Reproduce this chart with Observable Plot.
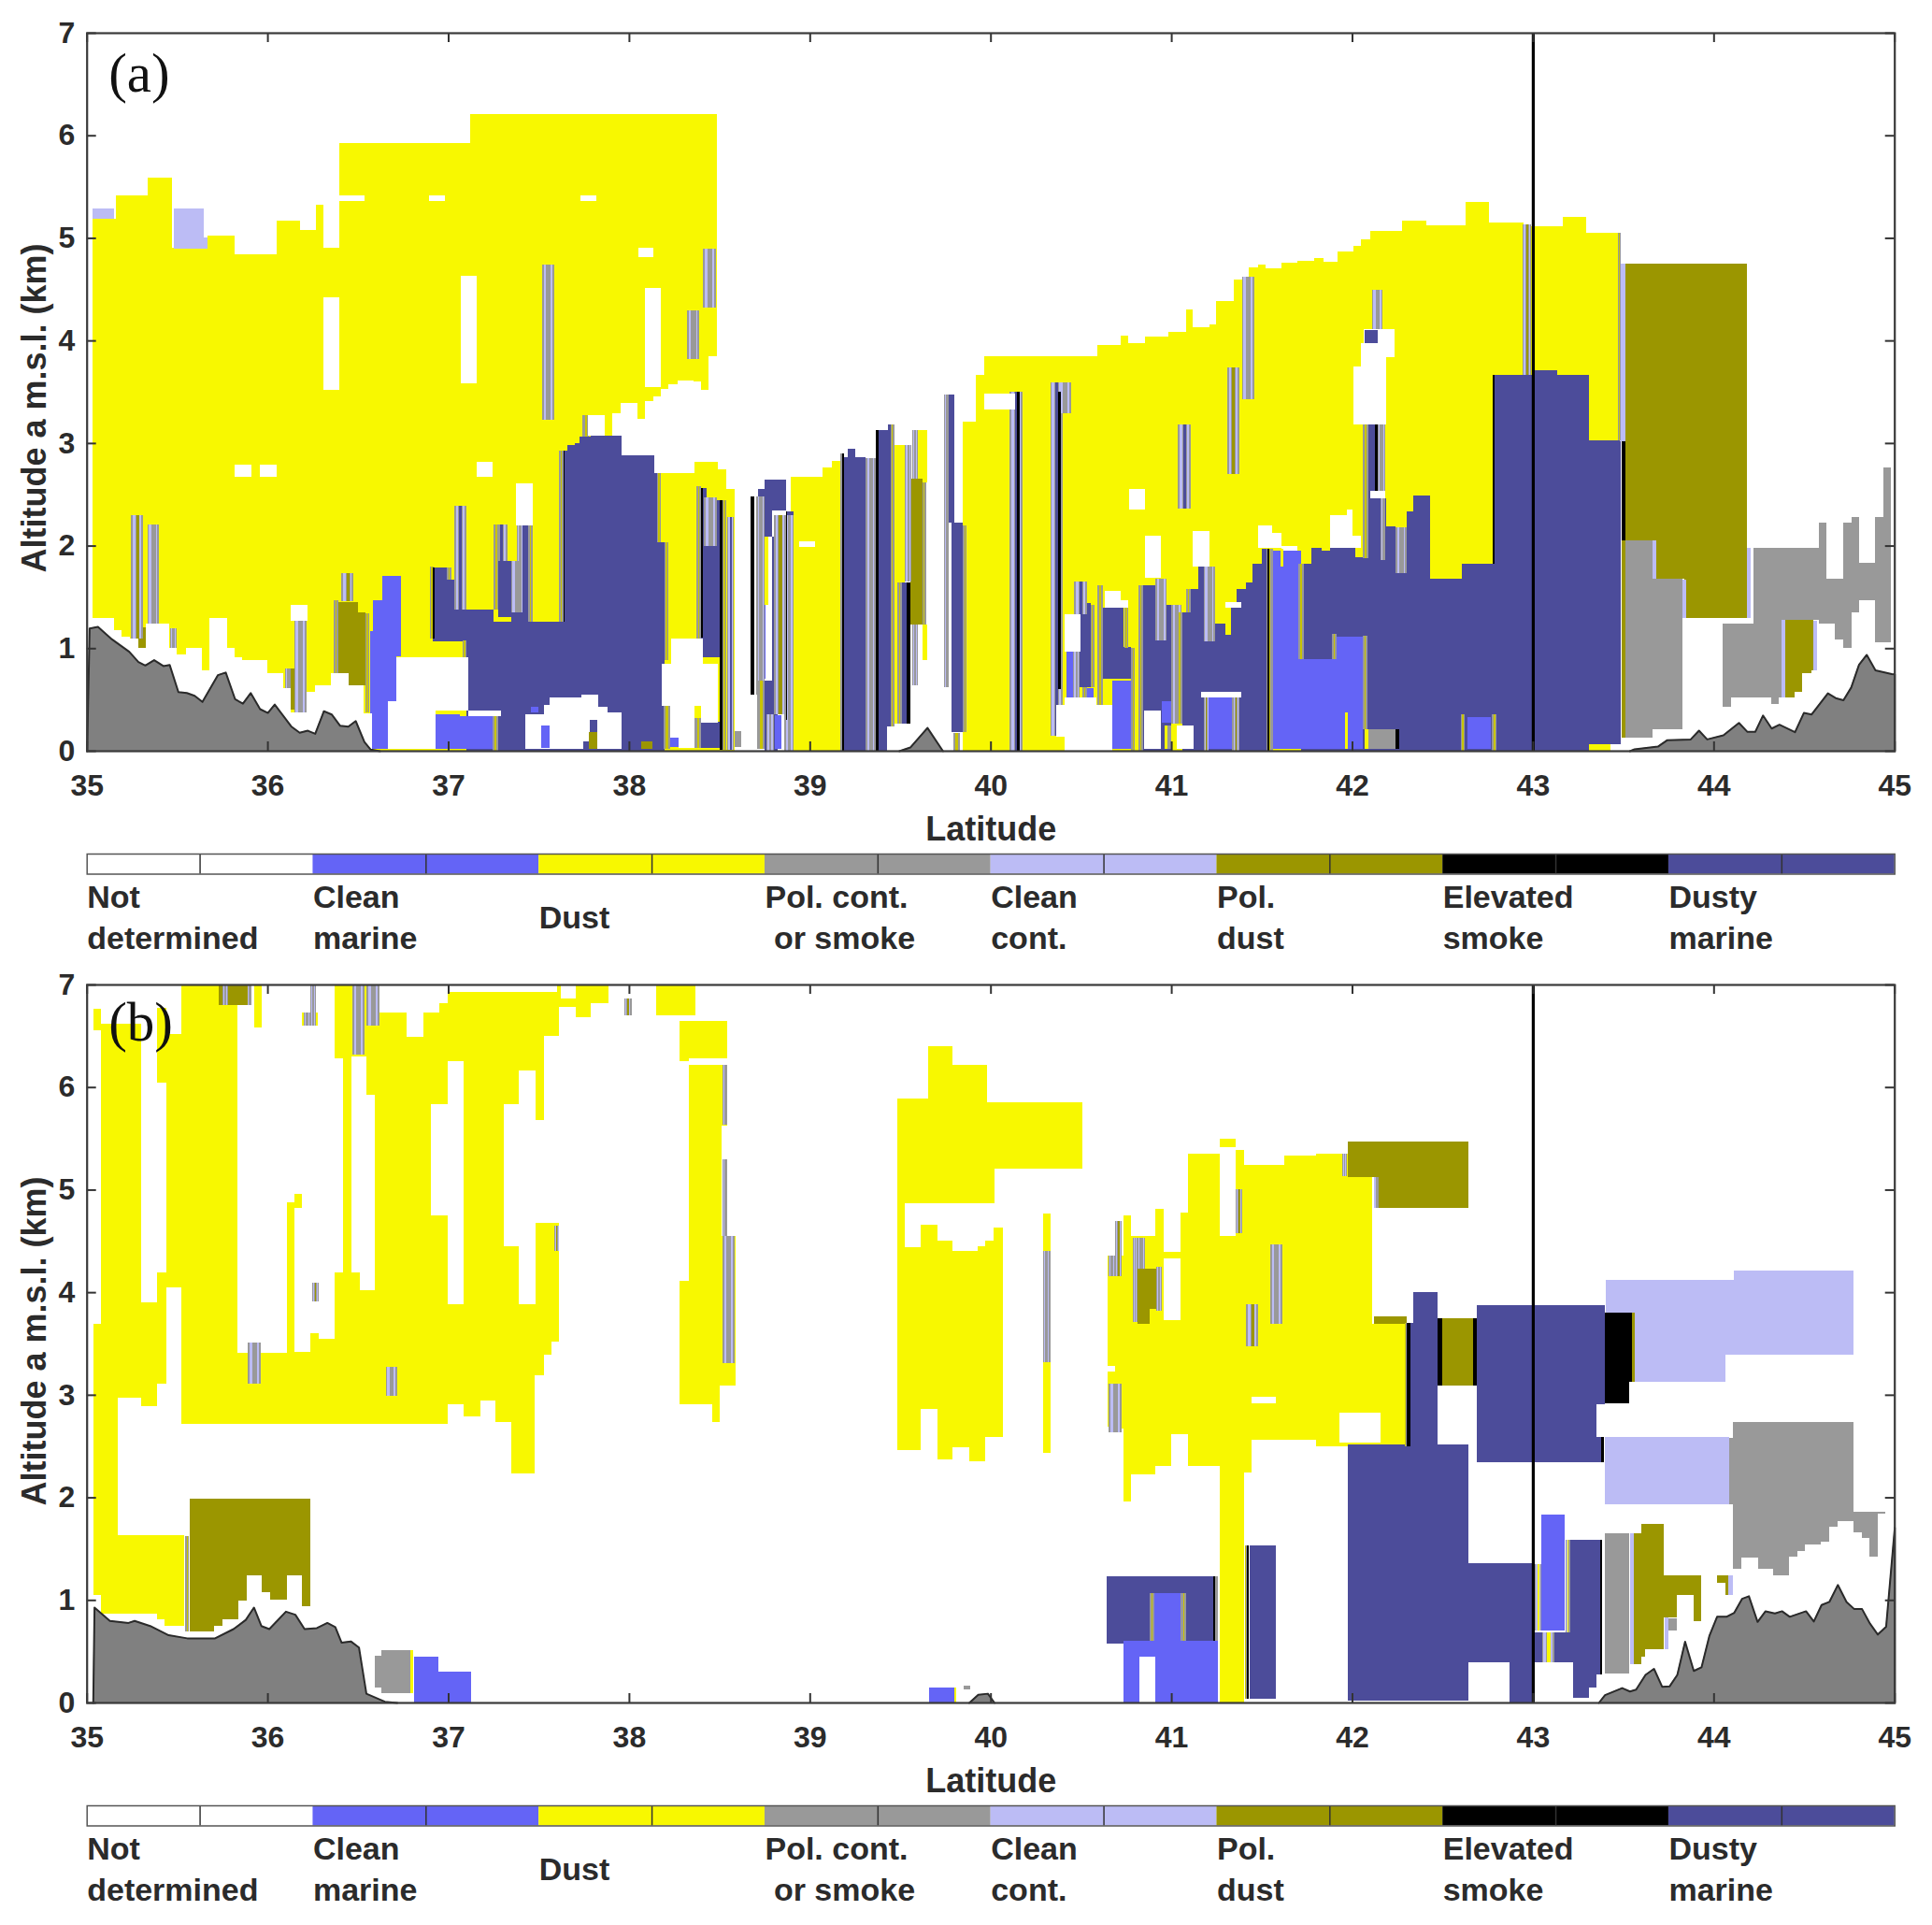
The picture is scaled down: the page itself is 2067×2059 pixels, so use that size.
<!DOCTYPE html>
<html><head><meta charset="utf-8">
<script src="https://cdn.jsdelivr.net/npm/d3@7"></script>
<script src="https://cdn.jsdelivr.net/npm/@observablehq/plot@0.6"></script>
<style>html,body{margin:0;background:#fff}svg{display:block}</style></head><body><div id="root"></div>
<script>
// Aerosol classes (legend order)
const legendLabels=["Not\ndetermined","Clean\nmarine","Dust","Pol. cont.\n or smoke","Clean\ncont.","Pol.\ndust","Elevated\nsmoke","Dusty\nmarine"];
const legendColors=["#ffffff","#6464f6","#f8f800","#999999","#bcbcf5","#9b9600","#000000","#4c4c9a"];
const colors={white:"#ffffff",marine:"#6464f6",dust:"#f8f800",gray:"#999999",clean:"#bcbcf5",olive:"#9b9600",black:"#000000",dusty:"#4c4c9a"};
const latTicks=[35,36,37,38,39,40,41,42,43,44,45];
const altTicks=[0,1,2,3,4,5,6,7];
// every block: [lat from, lat to, altitude top, altitude bottom]
const dustA=[[35.03,35.16,5.19,0],[35.16,35.34,5.41,0],[35.34,35.47,5.59,0],[35.47,35.67,4.9,0],[35.67,35.82,5.02,0],[35.82,36.05,4.84,0],[36.05,36.18,5.17,0],[36.18,36.27,5.08,0],[36.27,36.31,5.32,0],[36.31,36.40,4.9,0],[36.40,37.12,5.92,0],[37.12,37.91,6.21,0],[37.91,37.956,6.21,3.29],[37.956,38.048,6.21,3.39],[38.048,38.09,6.21,3.24],[38.09,38.134,6.21,3.41],[38.134,38.178,6.21,3.45],[38.178,38.22,6.21,3.53],[38.22,38.27,6.21,3.57],[38.27,38.356,6.21,3.61],[38.356,38.40,6.21,3.6],[38.40,38.44,6.21,3.52],[38.44,38.486,6.21,3.85],[38.149,38.365,2.71,0],[38.365,38.494,2.82,0],[38.494,38.537,2.74,0],[38.537,38.584,2.55,0],[38.71,38.77,2.09,1.42],[38.895,39.07,2.67,0],[39.07,39.12,2.76,0],[39.12,39.19,2.83,0],[39.467,39.528,2.98,1.64],[39.47,39.485,1.64,.26],[39.597,39.648,3.13,2.62],[39.623,39.648,1.23,.88],[39.846,39.92,3.21,0],[39.92,39.966,3.66,0],[39.966,40.59,3.85,0],[40.59,40.72,3.96,0],[40.72,40.76,4.05,0],[40.76,40.855,3.97,0],[40.855,40.985,4.04,0],[40.985,41.08,4.08,0],[41.08,41.12,4.30,0],[41.12,41.21,4.13,0],[41.21,41.25,4.16,0],[41.25,41.345,4.38,0],[41.345,41.43,4.59,0],[41.43,41.48,4.71,0],[41.48,41.52,4.74,0],[41.52,41.61,4.70,0],[41.61,41.70,4.76,0],[41.70,41.79,4.78,0],[41.79,41.84,4.80,0],[41.84,41.92,4.77,0],[41.92,42.01,4.87,0],[42.01,42.05,4.92,0],[42.05,42.10,4.99,0],[42.10,42.275,5.07,0],[42.275,42.41,5.17,0],[42.41,42.63,5.12,0],[42.63,42.76,5.35,0],[42.76,42.95,5.15,0],[42.95,43.165,5.11,0],[43.165,43.295,5.20,0],[43.295,43.47,5.05,0]];
const dustyA=[[36.916,36.994,1.79,1.07],[36.994,37.102,1.67,1.07],[37.05,37.085,2.38,1.38],[37.10,37.25,1.38,0],[37.25,37.637,1.26,0],[37.278,37.313,2.2,1.3],[37.313,37.347,1.85,1.3],[37.347,37.413,1.35,1.2],[37.413,37.442,2.2,1.2],[37.615,37.66,2.93,0],[37.66,37.70,2.98,0],[37.70,37.727,3.0,0],[37.727,37.787,3.06,0],[37.787,37.96,3.07,0],[37.96,38.14,2.88,0],[38.14,38.154,2.71,0],[38.154,38.196,2.03,0],[38.40,38.503,2.0,.91],[38.399,38.43,2.56,2.0],[38.485,38.503,2.44,2.0],[38.40,38.503,.28,.03],[38.714,38.748,2.55,2.09],[38.748,38.867,2.64,2.34],[38.748,38.792,2.34,2.09],[38.792,38.821,2.09,.68],[38.752,38.821,.68,0],[38.867,38.91,2.33,0],[39.19,39.31,2.86,0],[39.21,39.25,2.94,2.86],[39.364,39.447,3.13,0],[39.435,39.447,3.18,3.13],[39.51,39.557,1.64,.26],[39.769,39.80,3.47,2.22],[39.786,39.846,2.22,.18],[40.493,40.553,1.44,.62],[40.622,40.734,1.39,.70],[40.734,40.778,1.015,.70],[40.838,40.915,1.61,0],[40.915,41.0,1.08,0],[40.976,41.0,1.42,1.0],[41.06,41.08,1.35,0],[41.08,41.15,1.58,0],[41.15,41.178,1.80,0],[41.178,41.243,1.07,0],[41.243,41.30,1.24,0],[41.30,41.33,1.13,0],[41.33,41.364,1.39,0],[41.364,41.415,1.58,0],[41.415,41.45,1.64,0],[41.45,41.50,1.82,0],[41.50,41.562,1.97,0],[41.717,41.777,1.82,0],[41.777,41.83,1.98,0],[41.83,41.88,1.95,0],[41.88,42.02,1.98,0],[42.02,42.088,1.89,0],[42.088,42.136,3.18,0],[42.136,42.19,2.46,0],[42.183,42.243,2.19,0],[42.243,42.303,1.73,0],[42.303,42.338,2.33,0],[42.338,42.43,2.49,0],[42.43,42.61,1.675,0],[42.61,42.79,1.82,0],[42.79,43.0,3.66,0],[43.0,43.135,3.71,0],[43.135,43.31,3.66,0],[43.31,43.488,3.03,.06]];
const marineA=[[36.586,36.634,1.47,.92],[36.634,36.741,1.70,.92],[36.566,36.712,1.17,.92],[36.566,36.664,.92,.015],[36.664,36.712,.92,.48],[36.93,37.065,.36,.015],[37.065,37.245,.34,.015],[38.712,38.755,1.42,.7],[38.807,38.842,.35,.015],[40.419,40.459,.97,.52],[40.533,40.57,.61,.48],[40.674,40.80,.68,.015],[40.95,41.02,.48,.27],[41.208,41.337,.515,.015],[41.562,41.717,1.95,.015],[41.717,42.062,.894,.015],[41.907,42.062,1.115,.89],[42.64,42.77,.33,.015]];
const oliveA=[[35.284,35.328,1.2,1.0],[36.13,36.18,.80,.40],[36.388,36.448,1.45,.76],[36.448,36.50,1.45,.636],[36.50,36.543,1.35,.636],[39.557,39.623,2.65,1.23],[43.512,43.664,4.75,2.055],[43.664,43.84,4.75,1.676],[43.84,44.185,4.75,1.29],[44.397,44.448,1.276,.515],[44.448,44.49,1.276,.576],[44.49,44.54,1.276,.758],[44.54,44.552,1.276,.782],[43.49,43.51,2.055,.13]];
const grayA=[[43.512,43.664,2.055,.13],[43.664,43.828,1.676,.21],[44.052,44.098,1.236,.424],[44.098,44.219,1.236,.515],[44.219,44.319,1.979,.515],[44.319,44.362,1.979,.455],[44.362,44.376,1.979,.515],[44.376,44.583,1.979,1.276],[44.583,44.626,2.22,1.236],[44.626,44.673,1.68,1.236],[44.673,44.716,1.68,1.085],[44.716,44.762,2.22,1.0],[44.762,44.805,2.28,1.35],[44.805,44.893,1.833,1.47],[44.893,44.94,2.28,1.06],[44.94,44.983,2.76,1.06],[42.088,42.243,.206,.015]];
const cleanA=[[35.03,35.15,5.29,5.19],[35.48,35.646,5.29,4.89],[35.57,35.67,5.0,4.89],[43.483,43.512,4.75,3.02],[43.664,43.681,2.05,1.676],[43.83,43.848,1.67,1.29],[44.185,44.205,1.98,1.29],[44.376,44.397,1.276,.515],[44.552,44.573,1.27,.78]];
const blackA=[[38.503,38.516,2.44,.01],[38.674,38.695,2.48,.55],[39.537,39.557,1.64,.26],[39.364,39.382,3.13,0],[37.637,37.645,2.93,1.26],[39.18,39.19,2.9,0],[43.49,43.512,3.02,2.05],[42.243,42.26,.206,.015],[42.128,42.144,3.18,2.5],[40.376,40.39,3.5,.6],[40.145,40.16,3.5,0],[36.916,36.924,1.79,1.09],[38.399,38.41,2.56,1.1],[41.53,41.54,1.97,0],[38.87,38.875,2.33,.3],[42.78,42.79,3.66,1.82]];
const stripesA=[[35.247,35.31,2.30,1.09,"olive"],[35.336,35.40,2.21,1.24,"gray"],[35.462,35.497,1.19,1.0,"gray"],[36.147,36.216,1.27,.37,"gray"],[36.10,36.13,.80,.61,"gray"],[36.41,36.476,1.73,1.46,"olive"],[37.033,37.10,2.39,1.38,"dusty"],[37.252,37.33,2.21,1.85,"dusty"],[37.347,37.413,1.85,1.35,"gray"],[37.382,37.413,2.2,1.35,"gray"],[38.416,38.485,2.47,2.0,"gray"],[38.546,38.58,2.28,.01,"dusty"],[39.31,39.364,2.85,0,"gray"],[39.528,39.562,2.98,1.65,"gray"],[39.566,39.597,3.13,2.65,"gray"],[39.566,39.597,1.23,.64,"gray"],[39.743,39.769,3.47,.15,"gray"],[40.105,40.178,3.50,0,"dusty"],[40.33,40.40,3.59,.15,"dusty"],[40.376,40.445,3.59,3.29,"gray"],[40.464,40.533,1.65,1.33,"dusty"],[40.458,40.493,.97,.52,"gray"],[40.912,40.976,1.68,1.08,"gray"],[41.0,41.057,1.42,.26,"gray"],[41.178,41.243,1.80,1.07,"gray"],[41.179,41.208,.52,0,"olive"],[41.338,41.377,.52,0,"olive"],[37.52,37.587,4.74,3.23,"gray"],[38.407,38.483,4.89,4.32,"gray"],[38.32,38.39,4.29,3.82,"gray"],[41.39,41.46,4.62,3.43,"gray"],[41.31,41.375,3.74,2.70,"olive"],[41.035,41.11,3.18,2.36,"dusty"],[42.945,42.99,5.13,3.66,"olive"],[42.11,42.17,4.49,4.11,"gray"],[42.14,42.184,3.18,2.5,"gray"],[42.157,42.184,2.46,1.86,"gray"],[42.243,42.303,2.18,1.73,"gray"],[38.706,38.752,2.48,.55,"gray"],[38.80,38.87,2.3,.36,"olive"],[38.76,38.80,.36,0,"gray"],[38.86,38.91,2.3,.0,"gray"]];
const edgesA=[[36.367,36.39,1.47,.76],[36.54,36.564,1.34,.37],[36.897,36.922,1.80,1.09],[36.994,37.016,1.79,1.67],[37.08,37.10,1.08,.91],[37.245,37.276,.34,0],[37.252,37.278,2.21,1.38],[37.442,37.468,2.2,1.26],[37.615,37.637,2.93,1.26],[37.744,37.78,3.27,3.06],[38.154,38.178,2.71,2.03],[38.196,38.22,2.03,.88],[38.192,38.227,.44,.02],[38.365,38.40,.32,.03],[38.373,38.399,2.58,1.08],[38.516,38.54,2.44,.01],[38.585,38.62,.19,.04],[38.71,38.752,.68,.02],[39.17,39.19,2.9,0],[39.447,39.467,3.18,.12],[39.485,39.51,1.64,.26],[39.623,39.643,2.62,1.23],[39.846,39.869,2.2,.18],[39.795,39.83,.17,0],[40.553,40.574,1.42,.62],[40.51,40.533,.62,.49],[40.591,40.622,1.61,.39],[40.74,40.764,1.39,1.0],[40.778,40.80,1.0,0],[40.817,40.843,1.61,0],[41.03,41.06,1.35,.26],[41.08,41.11,1.58,1.35],[41.527,41.562,1.97,0],[41.703,41.734,1.82,.89],[41.89,41.915,1.135,.89],[42.062,42.084,1.12,.21],[42.062,42.088,3.18,1.88],[43.47,43.488,5.05,3.03],[42.60,42.625,.36,.0],[42.775,42.80,.36,.0]];
const whiteA=[[35,35.15,1.297,0],[35.15,35.193,1.176,0],[35.193,35.241,1.115,0],[35.241,35.284,1.09,0],[35.284,35.328,1.0,0],[35.328,35.457,1.24,0],[35.457,35.5,1.0,0],[35.5,35.548,.94,0],[35.548,35.638,1.0,0],[35.638,35.681,.788,0],[35.681,35.776,1.297,0],[35.776,35.819,1.0,0],[35.819,35.862,.91,0],[35.862,36.0,.88,0],[36.0,36.086,.76,0],[36.086,36.129,.61,0],[36.129,36.216,.37,0],[36.216,36.262,.576,0],[36.262,36.353,.636,0],[36.353,36.448,.76,0],[36.448,36.534,.636,0],[36.534,36.578,.364,0],[36.31,36.40,4.42,3.52],[37.07,37.156,4.63,3.58],[38.09,38.178,4.51,3.55],[38.05,38.134,4.9,4.81],[36.893,36.98,5.41,5.36],[37.73,37.82,5.41,5.36],[36.40,36.535,5.41,5.36],[35.82,35.91,2.79,2.67],[35.957,36.05,2.79,2.67],[37.156,37.245,2.82,2.67],[37.375,37.468,2.61,2.2],[38.94,39.03,2.04,1.99],[36.13,36.22,1.42,1.27],[37.775,37.867,3.27,3.07],[36.712,37.112,.91,.39],[36.664,36.93,.485,.015],[37.112,37.29,.39,.34],[37.425,37.528,.36,.015],[37.528,37.563,.45,.015],[37.563,37.735,.515,.015],[37.735,37.83,.55,.015],[37.83,37.882,.43,.015],[37.882,37.96,.37,.015],[38.235,38.408,1.09,.85],[38.183,38.494,.85,.44],[38.275,38.365,.44,.03],[38.399,38.494,.44,.27],[38.227,38.275,.44,.13],[39.43,39.786,.24,0],[39.562,39.786,.62,.0],[39.743,39.786,.52,.26],[39.966,40.137,3.48,3.33],[40.765,40.855,2.55,2.35],[40.364,40.674,.45,0],[40.412,40.587,.52,.45],[40.412,40.496,1.33,.97],[40.852,40.941,.39,.015],[40.855,40.945,2.1,1.69],[41.033,41.122,.25,.015],[41.119,41.209,2.14,1.80],[41.165,41.386,.575,.52],[41.298,41.386,1.445,1.39],[40.631,40.72,1.56,1.39],[40.72,40.764,1.47,1.39],[41.478,41.56,2.2,1.98],[41.56,41.61,2.12,1.98],[41.61,41.70,2.0,1.95],[41.88,41.97,2.3,1.98],[41.97,42.0,2.35,1.98],[42.0,42.05,2.1,1.98],[42.053,42.14,3.3,3.19],[42.10,42.186,2.53,2.46],[42.065,42.235,4.11,3.84],[42.05,42.19,3.97,3.75],[42.01,42.19,3.75,3.18],[43.43,43.49,.06,0],[43.49,43.65,.1,0]];
const innerA=[[37.782,37.826,.3,.015,"dusty"],[37.745,37.782,.09,.015,"dusty"],[37.516,37.559,.25,.03,"marine"],[37.78,37.826,.18,.015,"olive"],[37.46,37.50,.43,.37,"marine"],[38.227,38.275,.13,.04,"marine"],[38.07,38.13,.09,.02,"olive"],[38.585,38.62,.19,.04,"gray"],[40.364,40.41,.14,0,"dust"],[40.312,40.36,.14,0,"dust"],[41.602,41.622,1.97,1.8,"dust"],[41.959,41.976,.37,.015,"dust"],[42.07,42.088,.21,.015,"dust"],[40.962,40.98,.25,.015,"dust"],[41.0,41.027,.25,.015,"dust"],[40.80,40.82,.68,.015,"dust"],[40.98,41.0,.25,.015,"gray"],[42.07,42.14,4.1,3.97,"dusty"]];
const terrainA1=[[35.0,0],[35.014,1.197],[35.06,1.212],[35.138,1.09],[35.233,.97],[35.284,.87],[35.322,.836],[35.371,.888],[35.422,.83],[35.457,.84],[35.505,.576],[35.552,.567],[35.595,.54],[35.638,.48],[35.724,.742],[35.767,.767],[35.819,.506],[35.862,.464],[35.905,.567],[35.957,.41],[36.0,.373],[36.038,.455],[36.129,.242],[36.176,.18],[36.221,.2],[36.262,.17],[36.31,.39],[36.353,.358],[36.4,.248],[36.445,.239],[36.486,.294],[36.534,.09],[36.569,.015],[36.62,0]];
const terrainA2=[[39.493,0],[39.554,.036],[39.649,.227],[39.735,0]];
const terrainA3=[[43.535,0],[43.56,.018],[43.69,.045],[43.74,.106],[43.871,.115],[43.917,.2],[43.962,.115],[44.052,.155],[44.138,.276],[44.185,.188],[44.228,.188],[44.271,.348],[44.319,.221],[44.362,.258],[44.448,.185],[44.497,.373],[44.54,.358],[44.63,.564],[44.673,.518],[44.716,.497],[44.759,.621],[44.802,.842],[44.845,.939],[44.893,.788],[44.983,.752],[45,.75],[45,0]];

const dustB=[[35.04,35.08,6.76,6.55],[35.04,35.08,3.69,1.05],[35.08,35.17,6.62,.87],[35.17,35.30,6.62,2.97],[35.30,35.39,3.9,2.89],[35.39,35.44,6.77,6.04],[35.39,35.44,4.19,3.11],[35.44,35.526,6.52,4.05],[35.526,35.834,7,2.72],[35.834,36.107,3.41,2.72],[36.107,36.152,4.88,2.72],[36.152,36.193,4.96,4.82],[36.152,36.237,3.42,2.72],[36.237,36.282,3.60,2.72],[36.282,36.374,3.55,2.72],[35.926,35.969,7,6.58],[36.193,36.28,6.73,6.6],[36.374,36.42,7,6.28],[36.374,36.42,4.19,2.72],[36.42,36.464,7,2.72],[36.464,36.546,7,6.3],[36.464,36.51,4.19,2.72],[36.51,36.596,4.02,2.72],[36.546,36.596,6.72,5.92],[36.596,36.77,6.73,2.72],[36.77,36.862,6.49,2.72],[36.862,36.951,6.73,2.72],[36.951,36.995,6.82,2.72],[36.995,37.085,6.93,2.91],[37.085,37.177,6.93,2.79],[37.177,37.262,6.93,2.94],[37.262,37.348,6.93,2.73],[37.348,37.478,6.93,2.23],[37.478,37.529,6.93,3.19],[37.529,37.57,6.93,3.39],[37.57,37.614,6.93,3.52],[37.60,37.625,7,6.85],[37.614,37.707,6.86,6.78],[37.707,37.79,7,6.68],[37.79,37.885,7,6.82],[38.15,38.366,7,6.7],[38.28,38.33,6.64,6.25],[38.33,38.544,6.64,6.28],[38.33,38.51,6.22,4.11],[38.51,38.544,6.22,5.62],[38.28,38.5,4.11,2.91],[38.5,38.59,4.55,3.09],[38.46,38.5,2.91,2.73],[35.17,35.39,1.63,.87],[35.39,35.43,1.63,.81],[35.43,35.54,1.63,.75],[39.484,39.525,5.89,2.46],[39.525,39.614,5.89,4.87],[39.525,39.614,4.44,2.46],[39.614,39.655,5.89,4.87],[39.614,39.706,4.66,2.86],[39.655,39.79,6.40,4.87],[39.79,39.98,6.22,4.87],[39.98,40.02,5.85,4.87],[40.02,40.51,5.85,5.2],[39.706,39.79,4.5,2.37],[39.79,39.885,4.4,2.49],[39.885,39.93,4.4,2.35],[39.93,39.97,4.45,2.35],[39.97,40.015,4.5,2.59],[40.015,40.07,4.63,2.59],[40.29,40.33,4.77,2.43],[40.648,40.69,4.36,2.69],[40.69,40.734,4.36,2.67],[40.734,40.777,4.75,1.96],[40.777,40.911,4.55,2.22],[40.911,40.958,4.81,2.31],[40.958,41.0,4.39,2.31],[41.0,41.05,4.39,2.62],[41.05,41.092,4.78,2.62],[41.092,41.268,5.35,2.31],[41.268,41.358,5.50,5.41],[41.268,41.358,4.55,0],[41.358,41.403,5.385,0],[41.403,41.444,5.24,2.24],[41.444,41.625,5.24,2.56],[41.625,41.803,5.33,2.56],[41.803,41.975,5.35,2.50],[41.975,42.113,5.12,2.50],[42.113,42.30,3.69,2.50]];
const dustyB=[[40.644,41.234,1.235,.573],[41.432,41.579,1.53,.04],[41.977,42.645,2.52,.02],[42.31,42.337,3.70,2.5],[42.337,42.474,4.0,2.5],[42.69,43.354,3.87,2.34],[43.354,43.397,3.87,2.91],[43.354,43.38,2.585,2.34],[42.645,42.995,1.358,0],[43.005,43.05,.68,.39],[43.12,43.225,.68,.39],[43.207,43.371,1.59,.68],[43.225,43.31,.68,.045],[43.31,43.354,.68,.15],[43.354,43.371,.68,.27]];
const marineB=[[40.734,41.26,.60,0],[40.906,41.053,1.07,.60],[43.047,43.178,1.83,.70],[36.81,36.948,.45,0],[36.948,37.125,.30,0],[39.66,39.80,.15,0]];
const oliveB=[[35.73,35.834,7,6.8],[35.834,35.89,7,6.8],[40.811,40.915,4.23,3.84],[40.811,40.88,3.84,3.69],[41.975,42.645,5.47,5.12],[42.148,42.645,5.12,4.82],[42.12,42.30,3.76,3.69],[42.497,42.669,3.75,3.09],[35.571,35.707,1.99,.69],[35.707,35.752,1.99,.75],[35.752,35.837,1.99,.81],[35.837,35.885,1.99,.99],[35.885,35.971,1.99,1.24],[35.971,36.015,1.99,1.08],[36.015,36.107,1.99,1.0],[36.107,36.193,1.99,1.24],[36.193,36.237,1.99,.94],[43.56,43.60,1.65,.37],[43.60,43.621,1.74,.45],[43.621,43.724,1.74,.52],[43.724,43.797,1.24,.83],[43.797,43.888,1.24,1.05],[43.888,43.931,1.24,.79],[44.021,44.08,1.24,1.17],[44.065,44.08,1.17,1.05],[43.549,43.566,3.80,3.13]];
const grayB=[[36.63,36.80,.51,.09],[36.596,36.63,.46,.15],[43.40,43.535,1.65,.28],[43.75,43.797,.82,.70],[44.087,44.109,2.58,1.93],[44.109,44.156,2.73,1.30],[44.156,44.245,2.73,1.415],[44.245,44.331,2.73,1.30],[44.331,44.418,2.73,1.24],[44.418,44.463,2.73,1.42],[44.463,44.506,2.73,1.476],[44.506,44.595,2.73,1.54],[44.595,44.638,2.73,1.567],[44.638,44.685,2.73,1.718],[44.685,44.773,2.73,1.77],[44.773,44.82,1.858,1.657],[44.82,44.863,1.858,1.60],[44.863,44.906,1.858,1.42],[44.906,44.952,1.858,1.84]];
const cleanB=[[43.405,44.112,4.12,3.80],[43.566,44.066,3.80,3.13],[44.066,44.112,3.80,3.394],[44.112,44.773,4.21,3.394],[43.40,44.087,2.585,1.93],[43.538,43.56,1.65,.37],[43.728,43.75,.83,.515],[44.08,44.108,1.24,1.05]];
const blackB=[[43.397,43.549,3.80,3.13],[43.397,43.531,3.13,2.92],[43.371,43.383,1.59,.27],[41.234,41.245,1.235,.6],[42.474,42.497,3.75,3.09],[42.669,42.69,3.75,3.09],[42.30,42.322,3.70,2.5],[41.418,41.428,1.53,.04],[43.38,43.392,2.585,2.34]];
const stripesB=[[35.753,35.78,7,6.8,"gray"],[35.89,35.91,7,6.8,"gray"],[36.469,36.538,7,6.32,"gray"],[36.546,36.62,7,6.6,"gray"],[36.236,36.27,7,6.6,"gray"],[36.2,36.236,6.73,6.6,"gray"],[35.889,35.964,3.51,3.11,"gray"],[36.247,36.282,4.09,3.91,"olive"],[36.654,36.716,3.27,2.99,"gray"],[37.587,37.614,4.65,4.4,"olive"],[37.973,38.014,6.86,6.7,"olive"],[38.517,38.544,6.22,5.63,"gray"],[38.517,38.544,5.30,4.55,"gray"],[38.517,38.585,4.55,3.31,"gray"],[40.29,40.33,4.4,3.32,"gray"],[40.69,40.725,4.69,4.16,"olive"],[40.653,40.69,4.36,4.16,"gray"],[40.79,40.811,4.53,3.71,"gray"],[40.811,40.855,4.53,4.23,"gray"],[40.915,40.946,4.25,3.82,"gray"],[41.355,41.394,5.0,4.58,"olive"],[41.548,41.613,4.47,3.69,"gray"],[41.415,41.48,3.88,3.47,"olive"],[40.653,40.725,3.11,2.63,"gray"],[41.946,41.97,5.35,5.13,"gray"],[42.12,42.148,5.12,4.82,"gray"],[43.05,43.12,.68,.39,"dust"],[43.012,43.047,1.35,.70,"dust"],[43.181,43.207,1.59,.68,"dust"]];
const edgesB=[[35.547,35.565,1.62,.69],[41.245,41.26,1.235,.6],[40.88,40.906,1.07,.6],[41.053,41.084,1.07,.6],[41.406,41.418,1.53,.04],[42.29,42.30,3.7,2.5]];
const whiteB=[[36.905,36.995,5.83,4.75],[36.996,37.085,6.25,3.88],[37.308,37.392,5.83,4.45],[37.392,37.486,6.16,3.88],[37.485,37.529,5.68,4.68],[37.529,37.614,6.5,4.68],[38.51,38.544,5.62,5.30],[38.33,38.544,6.28,6.22],[39.525,39.614,4.66,4.44],[39.614,39.706,4.87,4.66],[39.706,39.85,4.87,4.5],[39.85,39.97,4.87,4.45],[39.97,40.07,4.87,4.63],[40.958,41.05,4.33,3.73],[41.932,42.156,2.83,2.53],[41.444,41.579,2.98,2.92],[40.648,40.69,3.28,3.23],[40.825,40.911,.45,0],[42.474,42.692,3.09,2.52],[42.645,42.87,.39,0],[43.354,43.40,2.91,2.585],[43.009,43.225,.39,0]];
const innerB=[[36.79,36.805,.51,.09,"dust"],[39.80,39.81,.15,0,"dust"],[39.85,39.89,.16,.13,"gray"]];
const terrainB1=[[35.034,0],[35.041,.93],[35.126,.80],[35.229,.78],[35.263,.80],[35.349,.75],[35.451,.66],[35.554,.63],[35.708,.63],[35.81,.72],[35.878,.81],[35.923,.93],[35.964,.75],[36.008,.72],[36.1,.89],[36.152,.86],[36.203,.72],[36.271,.73],[36.329,.78],[36.373,.74],[36.408,.587],[36.459,.6],[36.504,.54],[36.545,.09],[36.647,.012],[36.716,0]];
const terrainB2=[[39.88,0],[39.93,.08],[39.983,.09],[40.02,0]];
const terrainB3=[[43.363,0],[43.397,.076],[43.492,.145],[43.535,.112],[43.569,.13],[43.621,.273],[43.668,.333],[43.713,.158],[43.754,.161],[43.797,.273],[43.84,.597],[43.888,.312],[43.931,.348],[43.974,.652],[44.017,.84],[44.069,.84],[44.112,.879],[44.155,1.015],[44.193,1.04],[44.241,.79],[44.285,.894],[44.337,.873],[44.376,.894],[44.419,.84],[44.509,.894],[44.552,.794],[44.595,.955],[44.638,.985],[44.685,1.15],[44.733,.985],[44.776,.915],[44.819,.915],[44.863,.773],[44.906,.667],[44.952,.742],[45,1.71],[45,0]];

const FONT="'Liberation Sans',Arial,sans-serif", INK="#2b2b2b";
const rects=(data,fill)=>Plot.rect(data,{x1:d=>d[0],x2:d=>d[1],y1:d=>d[3],y2:d=>d[2],fill,shapeRendering:"crispEdges"});
const classed=d=>colors[d[4]];
const band=(data,a,b,fill)=>Plot.rect(data,{x1:d=>d[0]+(d[1]-d[0])*a,x2:d=>d[0]+(d[1]-d[0])*b,y1:d=>d[3],y2:d=>d[2],fill,shapeRendering:"crispEdges"});
const ground=t=>[Plot.areaY(t,{x:d=>d[0],y:d=>d[1],fill:"#808080"}),Plot.line(t,{x:d=>d[0],y:d=>d[1],stroke:"#2a2a2a",strokeWidth:2})];

function panel(p){
  return Plot.plot({width:2067,height:905,marginLeft:92.7,marginRight:40.3,marginTop:35,marginBottom:102,
    x:{domain:[35,45]},y:{domain:[0,7]},style:{background:"#fff",fontFamily:FONT,overflow:"visible"},
    marks:[
      rects(p.dust,colors.dust),rects(p.dusty,colors.dusty),rects(p.marine,colors.marine),rects(p.olive,colors.olive),rects(p.gray,colors.gray),rects(p.clean,colors.clean),
      rects(p.stripes,colors.gray),band(p.stripes,.14,.86,colors.clean),band(p.stripes,.34,.72,colors.gray),band(p.stripes,.42,.66,classed),
      rects(p.edges,colors.gray),band(p.edges,.36,.66,"#c8c400"),
      rects(p.black,colors.black),
      rects(p.white,colors.white),rects(p.inner,classed),
      ...p.terrain.flatMap(ground),
      Plot.ruleX([43],{stroke:"#000",strokeWidth:3.2}),
      Plot.tickX(latTicks,{x:d=>d,insetTop:758,stroke:"#333",strokeWidth:2}),
      Plot.tickX(latTicks,{x:d=>d,insetBottom:758,stroke:"#333",strokeWidth:2}),
      Plot.tickY(altTicks,{y:d=>d,insetRight:1924,stroke:"#333",strokeWidth:2}),
      Plot.tickY(altTicks,{y:d=>d,insetLeft:1924,stroke:"#333",strokeWidth:2}),
      Plot.frame({stroke:"#3a3a3a",strokeWidth:2.2}),
      Plot.axisX(latTicks,{anchor:"bottom",tickSize:0,tickPadding:25,label:null,fontSize:32,fontWeight:"bold",fill:INK,tickFormat:d=>String(d)}),
      Plot.axisY(altTicks,{anchor:"left",tickSize:0,tickPadding:13,label:null,fontSize:32,fontWeight:"bold",fill:INK,tickFormat:d=>String(d)}),
      Plot.text(["Latitude"],{frameAnchor:"bottom",lineAnchor:"middle",dy:84,fontSize:36,fontWeight:"bold",fill:INK}),
      Plot.text(["Altitude a m.s.l. (km)"],{frameAnchor:"left",textAnchor:"middle",lineAnchor:"middle",rotate:-90,dx:-55.7,dy:p.labelDy,fontSize:36,fontWeight:"bold",fill:INK}),
      Plot.text([p.tag],{frameAnchor:"top-left",textAnchor:"start",lineAnchor:"middle",dx:23,dy:p.tagDy,fontSize:59,fontFamily:"'Liberation Serif',serif",fill:"#111"})
    ]});
}
function legend(){
  const idx=d3.range(legendLabels.length);
  return Plot.plot({width:2067,height:113,marginLeft:92.7,marginRight:40.3,marginTop:8,marginBottom:83.5,
    x:{domain:[0,8]},style:{background:"#fff",fontFamily:FONT,overflow:"visible"},
    marks:[
      Plot.rect(idx,{x1:i=>i,x2:i=>i+1,fill:i=>legendColors[i]}),
      Plot.ruleX(idx,{x:i=>i+.5,stroke:"#333",strokeWidth:1.5}),
      Plot.frame({stroke:"#555",strokeWidth:1.5}),
      Plot.axisX({ticks:[],label:null,tickSize:0}),
      Plot.text(idx,{x:i=>i,text:i=>legendLabels[i],frameAnchor:"bottom",dy:44,textAnchor:"start",lineAnchor:"middle",lineHeight:1.28,fontSize:34,fontWeight:"bold",fill:INK})
    ]});
}
const root=document.getElementById("root");
root.append(panel({dust:dustA,dusty:dustyA,marine:marineA,olive:oliveA,gray:grayA,clean:cleanA,stripes:stripesA,edges:edgesA,black:blackA,white:whiteA,inner:innerA,terrain:[terrainA1,terrainA2,terrainA3],labelDy:17,tagDy:44,tag:"(a)"}));
root.append(legend());
root.append(panel({dust:dustB,dusty:dustyB,marine:marineB,olive:oliveB,gray:grayB,clean:cleanB,stripes:stripesB,edges:edgesB,black:blackB,white:whiteB,inner:innerB,terrain:[terrainB1,terrainB2,terrainB3],labelDy:-3,tagDy:41,tag:"(b)"}));
root.append(legend());
</script></body></html>
